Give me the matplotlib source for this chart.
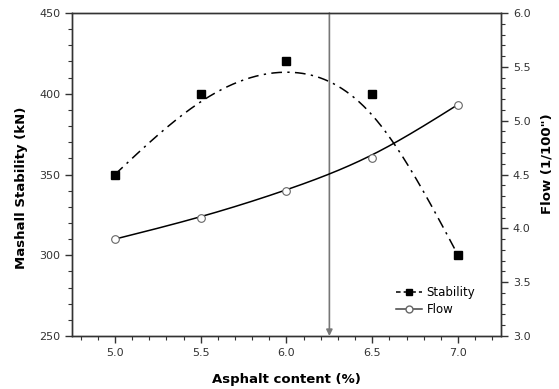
import matplotlib.pyplot as plt
import numpy as np
from matplotlib.ticker import MultipleLocator
from matplotlib.lines import Line2D

asphalt = np.array([5.0, 5.5, 6.0, 6.5, 7.0])
stability = np.array([350, 400, 420, 400, 300])
flow = np.array([3.9, 4.1, 4.35, 4.65, 5.15])
optimum = 6.25


# uniform cubic B-spline, end points repeated as phantom points so the curve hits them
def bspline(x, y, n=60):
    px = np.r_[2 * x[0] - x[1], x, 2 * x[-1] - x[-2]]
    py = np.r_[2 * y[0] - y[1], y, 2 * y[-1] - y[-2]]
    t = np.linspace(0, 1, n)
    b0 = (1 - t) ** 3 / 6
    b1 = (3 * t**3 - 6 * t**2 + 4) / 6
    b2 = (-3 * t**3 + 3 * t**2 + 3 * t + 1) / 6
    b3 = t**3 / 6
    xs, ys = [], []
    for i in range(len(px) - 3):
        xs.append(b0 * px[i] + b1 * px[i + 1] + b2 * px[i + 2] + b3 * px[i + 3])
        ys.append(b0 * py[i] + b1 * py[i + 1] + b2 * py[i + 2] + b3 * py[i + 3])
    return np.concatenate(xs), np.concatenate(ys)


plt.rcParams['font.family'] = 'DejaVu Sans'
fig = plt.figure(figsize=(5.59, 3.89), dpi=100)
ax = fig.add_axes([0.1288, 0.1362, 0.7674, 0.8304])
ax2 = ax.twinx()

sx, sy = bspline(asphalt, stability)
ax.plot(sx, sy, color='black', lw=1.1, dashes=(7, 3.5, 1.5, 3.5))
ax.plot(asphalt, stability, 's', color='black', ms=5.5, ls='none')

fx, fy = bspline(asphalt, flow)
ax2.plot(fx, fy, color='black', lw=1.1)
ax2.plot(asphalt, flow, 'o', mfc='white', mec='#666666', ms=5.5, mew=0.8, ls='none')

ax.annotate('', xy=(optimum, 250), xytext=(optimum, 450),
            arrowprops=dict(arrowstyle='-|>', color='#777777', lw=1.2,
                            mutation_scale=9, shrinkA=0, shrinkB=0))

ax.set_xlim(4.75, 7.25)
ax.set_ylim(250, 450)
ax2.set_ylim(3.0, 6.0)
ax.xaxis.set_major_locator(MultipleLocator(0.5))
ax.xaxis.set_minor_locator(MultipleLocator(0.1))
ax.yaxis.set_major_locator(MultipleLocator(50))
ax.yaxis.set_minor_locator(MultipleLocator(10))
ax2.yaxis.set_major_locator(MultipleLocator(0.5))
ax2.yaxis.set_minor_locator(MultipleLocator(0.1))
ax.xaxis.set_major_formatter(plt.FormatStrFormatter('%.1f'))
ax2.yaxis.set_major_formatter(plt.FormatStrFormatter('%.1f'))

for a in (ax, ax2):
    for s in a.spines.values():
        s.set_color('#333333')
        s.set_linewidth(1.0)
    a.tick_params(which='major', length=5, width=1, color='#333333', labelsize=8, labelcolor='#333333')
    a.tick_params(which='minor', length=3, width=0.8, color='#333333')

ax.set_xlabel('Asphalt content (%)', fontsize=9.5, fontweight='bold')
ax.set_ylabel('Mashall Stability (kN)', fontsize=9.5, fontweight='bold')
ax2.set_ylabel('Flow (1/100")', fontsize=9.5, fontweight='bold')
ax.xaxis.set_label_coords(0.5, -0.113)
ax.yaxis.set_label_coords(-0.103, 0.458)
ax2.yaxis.set_label_coords(1.091, 0.532)

handles = [
    Line2D([], [], color='black', lw=1.1, dashes=(3, 2), marker='s', ms=5),
    Line2D([], [], color='#444444', lw=1.1, marker='o', mfc='white', mec='#666666', ms=5),
]
ax2.legend(handles, ['Stability', 'Flow'], loc='lower right', bbox_to_anchor=(0.965, 0.03),
           frameon=False, fontsize=8.5, handlelength=2.2, handletextpad=0.4,
           labelspacing=0.3)

fig.savefig('out.png', dpi=100)
